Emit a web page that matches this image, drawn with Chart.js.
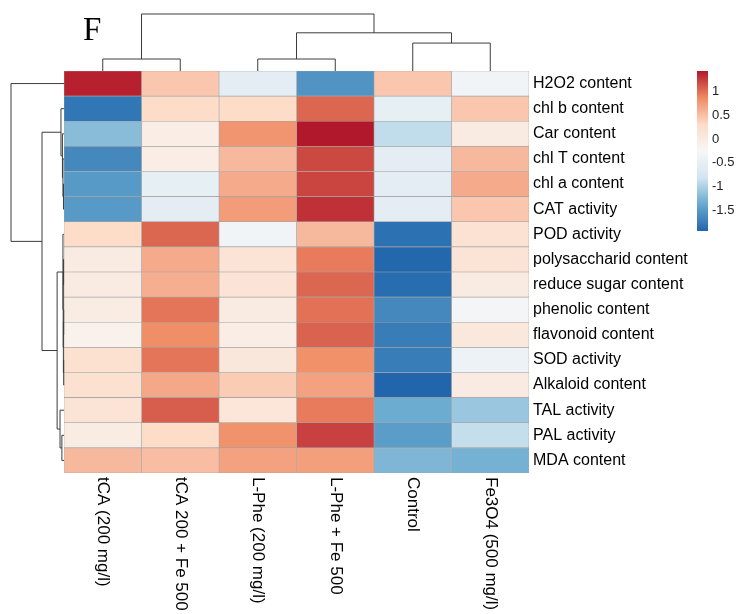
<!DOCTYPE html>
<html>
<head>
<meta charset="utf-8">
<script src="https://cdn.jsdelivr.net/npm/chart.js@4.4.0/dist/chart.umd.min.js"></script>
<style>
  html, body { margin: 0; padding: 0; background: #fff; }
  #wrap { width: 743px; height: 614px; position: relative; }
</style>
</head>
<body>
<div id="wrap"><canvas id="heatmap"></canvas></div>
<script>
const treatments = ['tCA (200 mg/l)', 'tCA 200 + Fe 500', 'L-Phe (200 mg/l)', 'L-Phe + Fe 500', 'Control', 'Fe3O4 (500 mg/l)'];
const traits = ['H2O2 content', 'chl b content', 'Car content', 'chl T content', 'chl a content', 'CAT activity',
    'POD activity', 'polysaccharid content', 'reduce sugar content', 'phenolic content', 'flavonoid content',
    'SOD activity', 'Alkaloid content', 'TAL activity', 'PAL activity', 'MDA content'];

// row-scaled values, one array per treatment (same order as traits)
const tCA200  = [1.40, -1.80, -1.20, -1.65, -1.50, -1.50, 0.30, 0.00, 0.00, -0.02, -0.12, 0.20, 0.20, 0.15, -0.02, 0.55];
const tCAFe   = [0.45, 0.30, -0.05, -0.05, -0.50, -0.55, 1.05, 0.65, 0.62, 0.98, 0.85, 0.98, 0.67, 1.10, 0.30, 0.52];
const lPhe200 = [-0.55, 0.30, 0.80, 0.55, 0.65, 0.75, -0.35, 0.15, 0.15, 0.00, -0.05, 0.07, 0.42, 0.10, 0.82, 0.72];
const lPheFe  = [-1.55, 1.05, 1.44, 1.20, 1.22, 1.32, 0.55, 0.95, 1.05, 1.00, 1.07, 0.83, 0.72, 0.95, 1.24, 0.73];
const control = [0.45, -0.50, -0.90, -0.55, -0.55, -0.55, -1.85, -1.92, -1.88, -1.65, -1.75, -1.75, -1.94, -1.35, -1.48, -1.25];
const fe3o4   = [-0.35, 0.45, 0.00, 0.55, 0.65, 0.45, 0.18, 0.15, 0.00, -0.30, 0.05, -0.42, 0.00, -1.10, -0.88, -1.30];
const values = [tCA200, tCAFe, lPhe200, lPheFe, control, fe3o4];

const legendTicks = [1, 0.5, 0, -0.5, -1, -1.5];

// clustering trees: [height, left, right], leaves are indices
const colTree = [1, [0.21, 0, 1], [0.67, [0.21, 2, 3], [0.49, 4, 5]]];
const rowTree = [1, 0, [0.415,
    [0.057, 1, [0.03, 2, [0.02, 3, [0.01, 4, 5]]]],
    [0.13,
        [0.02, 6, [0.015, [0.008, 7, 8], [0.012, [0.006, 9, 10], [0.006, 11, 12]]]],
        [0.075, 13, [0.04, 14, 15]]]]];

const palette = ['#2166AC', '#67A9CF', '#D1E5F0', '#F7F7F7', '#FDDBC7', '#EF8A62', '#B2182B'].map(h => [
    parseInt(h.slice(1, 3), 16), parseInt(h.slice(3, 5), 16), parseInt(h.slice(5, 7), 16)]);
const allVals = values.flat();
const vMin = Math.min(...allVals);
const vMax = Math.max(...allVals);

function colorFor(v) {
    let t = (v - vMin) / (vMax - vMin);
    t = Math.max(0, Math.min(1, t)) * (palette.length - 1);
    const i = Math.min(Math.floor(t), palette.length - 2);
    const f = t - i;
    const a = palette[i], b = palette[i + 1];
    const c = a.map((x, k) => Math.round(x + (b[k] - x) * f));
    return `rgb(${c[0]},${c[1]},${c[2]})`;
}

const FONT = 'Liberation Sans, Arial, sans-serif';

const extras = {
    id: 'extras',
    afterDraw(chart) {
        const ctx = chart.ctx;
        const area = chart.chartArea;
        const xs = chart.scales.x;
        const ys = chart.scales.y;

        ctx.save();
        ctx.strokeStyle = '#3c3c3c';
        ctx.lineWidth = 1;

        // column dendrogram above the cells
        const colTop = 14;
        const colY = h => area.top - h * (area.top - colTop);
        const colX = i => xs.getPixelForValue(i + 0.5);
        function drawCol(node) {
            if (typeof node === 'number') return { p: colX(node), h: 0 };
            const a = drawCol(node[1]), b = drawCol(node[2]);
            ctx.beginPath();
            ctx.moveTo(a.p, colY(a.h)); ctx.lineTo(a.p, colY(node[0]));
            ctx.lineTo(b.p, colY(node[0])); ctx.lineTo(b.p, colY(b.h));
            ctx.stroke();
            return { p: (a.p + b.p) / 2, h: node[0] };
        }
        drawCol(colTree);

        // row dendrogram on the left
        const rowLeft = 11;
        const rowX = h => area.left - h * (area.left - rowLeft);
        const rowY = i => ys.getPixelForValue(i);
        function drawRow(node) {
            if (typeof node === 'number') return { p: rowY(node), h: 0 };
            const a = drawRow(node[1]), b = drawRow(node[2]);
            ctx.beginPath();
            ctx.moveTo(rowX(a.h), a.p); ctx.lineTo(rowX(node[0]), a.p);
            ctx.lineTo(rowX(node[0]), b.p); ctx.lineTo(rowX(b.h), b.p);
            ctx.stroke();
            return { p: (a.p + b.p) / 2, h: node[0] };
        }
        drawRow(rowTree);

        // treatment names, rotated, under each column
        ctx.fillStyle = '#000';
        ctx.font = `17px ${FONT}`;
        ctx.textAlign = 'left';
        ctx.textBaseline = 'middle';
        treatments.forEach((name, i) => {
            ctx.save();
            ctx.translate(colX(i), area.bottom + 4);
            ctx.rotate(Math.PI / 2);
            ctx.fillText(name, 0, 0);
            ctx.restore();
        });

        // colour key
        const kx = 697, kw = 11, kTop = area.top, kBot = 231;
        const grad = ctx.createLinearGradient(0, kBot, 0, kTop);
        palette.forEach((c, i) => grad.addColorStop(i / (palette.length - 1), `rgb(${c.join(',')})`));
        ctx.fillStyle = grad;
        ctx.fillRect(kx, kTop, kw, kBot - kTop);
        ctx.fillStyle = '#222';
        ctx.font = `13px ${FONT}`;
        legendTicks.forEach(v => {
            const y = kTop + (vMax - v) / (vMax - vMin) * (kBot - kTop);
            ctx.fillText(String(v), kx + kw + 4, y);
        });

        // panel letter
        ctx.fillStyle = '#000';
        ctx.font = '33px Liberation Serif, Times New Roman, serif';
        ctx.textBaseline = 'alphabetic';
        ctx.fillText('F', 83, 40);
        ctx.restore();
    }
};

const ctx = document.getElementById('heatmap').getContext('2d');
const heatmap = new Chart(ctx, {
    type: 'bar',
    data: {
        labels: traits,
        datasets: treatments.map((name, j) => ({
            label: name,
            data: traits.map(() => [j, j + 1]),
            backgroundColor: values[j].map(colorFor),
            borderColor: '#a3a3a3',
            borderWidth: 0.6,
            borderSkipped: false,
            grouped: false,
            categoryPercentage: 1,
            barPercentage: 1
        }))
    },
    options: {
        indexAxis: 'y',
        responsive: true,
        maintainAspectRatio: false,
        animation: false,
        layout: { padding: { left: 64, top: 71, bottom: 141, right: 0 } },
        plugins: { legend: { display: false }, tooltip: { enabled: false } },
        scales: {
            x: { type: 'linear', min: 0, max: 6, display: false },
            y: {
                type: 'category',
                position: 'right',
                grid: { display: false, drawTicks: false },
                border: { display: false },
                ticks: { color: '#000', padding: 4, font: { family: FONT, size: 16 } },
                afterFit: scale => { scale.width = 214; }
            }
        }
    },
    plugins: [extras]
});
</script>
</body>
</html>
